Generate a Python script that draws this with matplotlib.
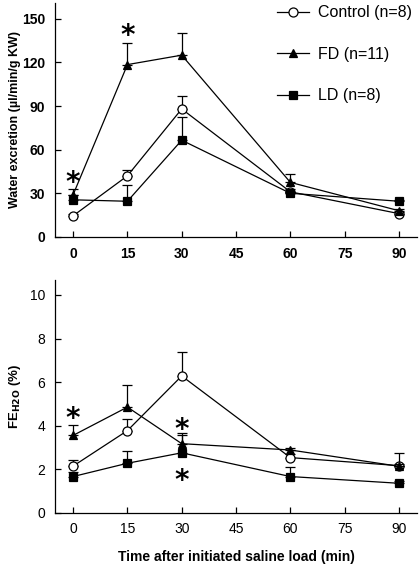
import numpy as np
import matplotlib
matplotlib.use("Agg")
import matplotlib.pyplot as plt

plt.rcParams['font.family'] = ['Liberation Sans', 'DejaVu Sans']

time = [0, 15, 30, 60, 90]

# water excretion (ul/min/g KW), mean and upper SEM
ctrl_we = [14.5, 42, 88, 31, 16]
ctrl_we_err = [1, 4, 9, 2, 1]
fd_we = [29, 118.5, 125, 37.5, 18]
fd_we_err = [4, 15, 15, 6, 1]
ld_we = [25.5, 24.5, 66.5, 30, 24.5]
ld_we_err = [3, 11, 16, 1, 1]

# FE H2O (%)
ctrl_fe = [2.14, 3.77, 6.28, 2.53, 2.16]
ctrl_fe_err = [0.28, 0.52, 1.12, 0.15, 0.57]
fd_fe = [3.55, 4.85, 3.17, 2.88, 2.13]
fd_fe_err = [0.5, 1.0, 0.48, 0.1, 0.1]
ld_fe = [1.66, 2.27, 2.75, 1.66, 1.35]
ld_fe_err = [0.2, 0.58, 0.8, 0.43, 0.1]

# significance asterisks (time, y)
stars_we = [(0, 43), (15, 144)]
stars_fe = [(0, 4.7), (30, 4.2), (30, 1.85)]

xticks = [0, 15, 30, 45, 60, 75, 90]

fig = plt.figure(figsize=(4.2, 5.64), dpi=100)
ax1 = fig.add_axes([0.131, 0.580, 0.862, 0.415])
ax2 = fig.add_axes([0.131, 0.091, 0.862, 0.413])

styles = [
    dict(marker='o', mfc='white', mec='black', ms=6.5, label='Control (n=8)'),
    dict(marker='^', mfc='black', mec='black', ms=6, label='FD (n=11)'),
    dict(marker='s', mfc='black', mec='black', ms=5.5, label='LD (n=8)'),
]


def draw(ax, series, stars, bold):
    for (mean, err), st in zip(series, styles):
        mean = np.array(mean)
        err = np.array(err)
        ax.errorbar(time, mean, yerr=[np.zeros_like(err), err], fmt='none',
                    ecolor='black', elinewidth=0.9, capsize=3.5, capthick=0.9)
        ax.plot(time, mean, color='black', lw=0.9, mew=0.9, **st)
    for x, y in stars:
        ax.annotate('*', (x, y), xytext=(0, -6), textcoords='offset points',
                    ha='center', va='center', fontsize=20,
                    fontweight='bold', family='DejaVu Sans')
    for s in ['top', 'right']:
        ax.spines[s].set_visible(False)
    for s in ['left', 'bottom']:
        ax.spines[s].set_linewidth(0.9)
    ax.set_xlim(-5, 95)
    ax.set_xticks(xticks)
    ax.tick_params(direction='in', length=4, width=0.9, labelsize=10, pad=7)
    if bold:
        for lab in ax.get_xticklabels() + ax.get_yticklabels():
            lab.set_fontweight('bold')


draw(ax1, [(ctrl_we, ctrl_we_err), (fd_we, fd_we_err), (ld_we, ld_we_err)],
     stars_we, True)
ax1.set_ylim(0, 161)
ax1.set_yticks([0, 30, 60, 90, 120, 150])
ax1.set_ylabel('Water excretion (µl/min/g KW)', fontsize=9, fontweight='bold',
               labelpad=1)
ax1.legend(loc='upper right', bbox_to_anchor=(1.025, 1.05), frameon=False,
           fontsize=11.5, labelspacing=1.65, handlelength=2.0,
           handletextpad=0.55)

draw(ax2, [(ctrl_fe, ctrl_fe_err), (fd_fe, fd_fe_err), (ld_fe, ld_fe_err)],
     stars_fe, False)
ax2.set_ylim(0, 10.7)
ax2.set_yticks([0, 2, 4, 6, 8, 10])
ax2.set_ylabel(r'FE$_{\mathbf{H2O}}$ (%)', fontsize=9.5, fontweight='bold',
               labelpad=5)
ax2.set_xlabel('Time after initiated saline load (min)', fontsize=10,
               fontweight='bold', labelpad=10)

fig.savefig('out.png', dpi=100)
